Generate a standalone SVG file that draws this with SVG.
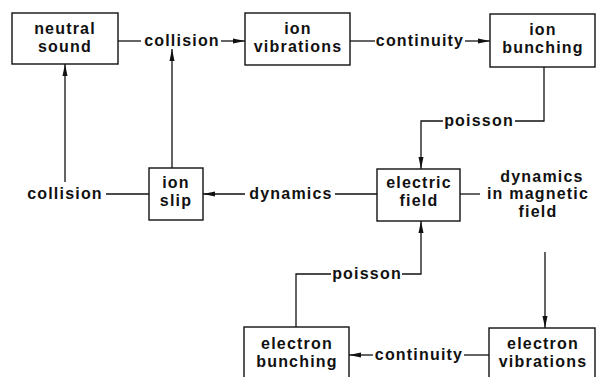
<svg xmlns="http://www.w3.org/2000/svg" width="597" height="377" viewBox="0 0 597 377">
<defs>
<style>
.box{fill:#fff;stroke:#111;stroke-width:1.4}
.t{font-family:"Liberation Sans",Arial,sans-serif;font-weight:bold;font-size:16px;letter-spacing:1.2px;fill:#111;text-anchor:middle}
.c{fill:none;stroke:#111;stroke-width:1.3}
</style>
<marker id="ah" markerUnits="userSpaceOnUse" markerWidth="12" markerHeight="6" refX="12" refY="3" orient="auto">
<path d="M0,0.5 L12,3 L0,5.5 z" fill="#111"/>
</marker>
</defs>
<rect width="597" height="377" fill="#fff"/>
<g id="connectors">
<line class="c" x1="118" y1="41" x2="141" y2="41"/>
<line class="c" x1="221" y1="41" x2="245" y2="41" marker-end="url(#ah)"/>
<text class="t" x="182" y="46">collision</text>
<line class="c" x1="350" y1="41" x2="375" y2="41"/>
<line class="c" x1="465" y1="41" x2="490" y2="41" marker-end="url(#ah)"/>
<text class="t" x="420" y="46">continuity</text>
<polyline class="c" points="544,67 544,121 515,121"/>
<polyline class="c" points="443,121 421,121 421,169" marker-end="url(#ah)"/>
<text class="t" x="479" y="126">poisson</text>
<line class="c" x1="377" y1="194" x2="335" y2="194"/>
<line class="c" x1="245" y1="194" x2="203" y2="194" marker-end="url(#ah)"/>
<text class="t" x="291" y="199">dynamics</text>
<line class="c" x1="172" y1="168" x2="172" y2="49" marker-end="url(#ah)"/>
<line class="c" x1="149" y1="194" x2="106" y2="194"/>
<text class="t" x="65" y="199">collision</text>
<line class="c" x1="65" y1="182" x2="65" y2="64" marker-end="url(#ah)"/>
<line class="c" x1="460" y1="194" x2="480" y2="194"/>
<text class="t" x="542" y="182">dynamics</text>
<text class="t" x="538" y="199">in magnetic</text>
<text class="t" x="538" y="217">field</text>
<line class="c" x1="545" y1="252" x2="545" y2="328" marker-end="url(#ah)"/>
<line class="c" x1="489" y1="355" x2="464" y2="355"/>
<line class="c" x1="373" y1="355" x2="349" y2="355" marker-end="url(#ah)"/>
<text class="t" x="419" y="360">continuity</text>
<polyline class="c" points="296,327 296,274 331,274"/>
<polyline class="c" points="402,274 421,274 421,221" marker-end="url(#ah)"/>
<text class="t" x="367" y="279">poisson</text>
</g>
<g id="neutral-sound">
<rect class="box" x="12" y="13" width="106" height="51"/>
<text class="t" x="65" y="34">neutral</text>
<text class="t" x="65" y="52">sound</text>
</g>
<g id="ion-vibrations">
<rect class="box" x="245" y="13" width="105" height="52"/>
<text class="t" x="298" y="34">ion</text>
<text class="t" x="298" y="52">vibrations</text>
</g>
<g id="ion-bunching">
<rect class="box" x="490" y="14" width="105" height="53"/>
<text class="t" x="543" y="35">ion</text>
<text class="t" x="543" y="53">bunching</text>
</g>
<g id="ion-slip">
<rect class="box" x="149" y="168" width="54" height="52"/>
<text class="t" x="176" y="188">ion</text>
<text class="t" x="176" y="206">slip</text>
</g>
<g id="electric-field">
<rect class="box" x="377" y="169" width="83" height="52"/>
<text class="t" x="419" y="188">electric</text>
<text class="t" x="419" y="206">field</text>
</g>
<g id="electron-bunching">
<rect class="box" x="244" y="327" width="105" height="60"/>
<text class="t" x="297" y="349">electron</text>
<text class="t" x="297" y="367">bunching</text>
</g>
<g id="electron-vibrations">
<rect class="box" x="489" y="328" width="106" height="60"/>
<text class="t" x="543" y="349">electron</text>
<text class="t" x="543" y="367">vibrations</text>
</g>
</svg>
